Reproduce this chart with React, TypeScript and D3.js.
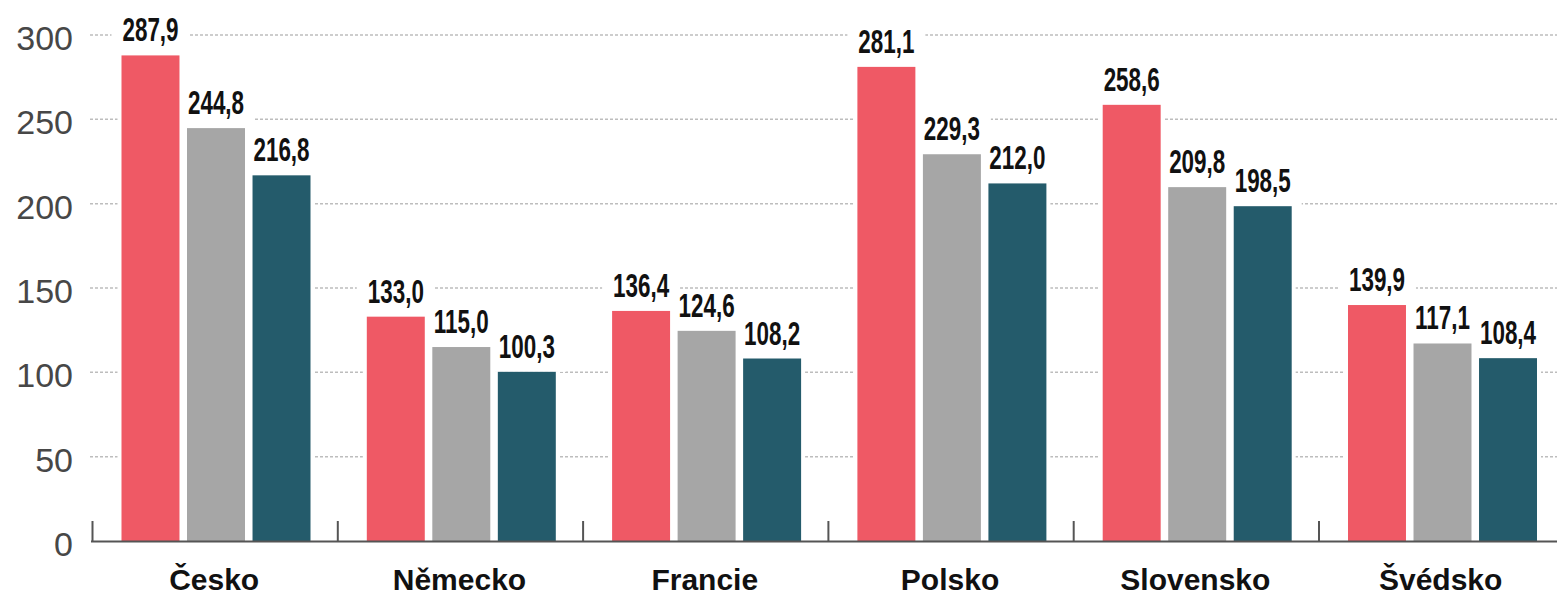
import React from "react";
import * as d3 from "d3";

const categories = ["Česko", "Německo", "Francie", "Polsko", "Slovensko", "Švédsko"];
const seriesKeys = ["s1", "s2", "s3"];
const series1 = [287.9, 133.0, 136.4, 281.1, 258.6, 139.9];
const series2 = [244.8, 115.0, 124.6, 229.3, 209.8, 117.1];
const series3 = [216.8, 100.3, 108.2, 212.0, 198.5, 108.4];
const yTicks = [0, 50, 100, 150, 200, 250, 300];
const colors = ["#ef5965", "#a6a6a6", "#245b6b"];

const W = 1557;
const H = 596;

export default function App() {
  const values = [series1, series2, series3];
  const x0 = d3.scaleBand<string>().domain(categories).range([92, 92 + 6 * 245.3]).padding(0);
  const x1 = d3.scaleBand<string>().domain(seriesKeys).range([29.5, 218.5]).paddingInner(0.115).paddingOuter(0);
  const y = d3.scaleLinear().domain([0, 300]).range([541, 35]);
  const fmt = (v: number) => v.toFixed(1).replace(".", ",");
  const bw = x1.bandwidth();

  const bars: { cat: string; si: number; v: number; x: number }[] = [];
  categories.forEach((c, ci) => {
    seriesKeys.forEach((k, si) => {
      bars.push({ cat: c, si, v: values[si][ci], x: (x0(c) as number) + (x1(k) as number) });
    });
  });

  return (
    <div style={{ position: "absolute", left: 0, top: 0 }}>
      <svg width={W} height={H} style={{ display: "block" }}>
        <rect x={0} y={0} width={W} height={H} fill="#fff" />
        {/* gridlines */}
        {yTicks.filter((t) => t > 0).map((t) => (
          <line key={t} x1={90} x2={W} y1={y(t)} y2={y(t)} stroke="#bdbdbd" strokeWidth={1.5} strokeDasharray="3,2" />
        ))}
        {/* y labels */}
        {yTicks.map((t) => (
          <text key={t} x={73} y={y(t) + 15} textAnchor="end" fontFamily="Liberation Sans, Arial, sans-serif" fontSize={34} fill="#474747">
            {t}
          </text>
        ))}
        {/* white masks behind bars and labels */}
        {bars.map((b, i) => (
          <g key={"m" + i}>
            <rect x={b.x - 4} y={y(b.v)} width={bw + 8} height={541 - y(b.v)} fill="#fff" />
            <rect x={b.x - 10} y={y(b.v) - 40} width={bw + 20} height={40} fill="#fff" />
          </g>
        ))}
        {/* bars */}
        {bars.map((b, i) => (
          <rect key={"b" + i} x={b.x} y={y(b.v)} width={bw} height={541 - y(b.v)} fill={colors[b.si]} />
        ))}
        {/* value labels */}
        {bars.map((b, i) => (
          <text
            key={"t" + i}
            transform={`translate(${b.x + bw / 2},${y(b.v) - 14}) scale(0.68,1)`}
            textAnchor="middle"
            fontFamily="Liberation Sans, Arial, sans-serif"
            fontWeight="bold"
            fontSize={33}
            fill="#111"
          >
            {fmt(b.v)}
          </text>
        ))}
        {/* axis */}
        <line x1={91} x2={W} y1={541.5} y2={541.5} stroke="#555" strokeWidth={2} />
        {categories.map((c) => (
          <line key={"tk" + c} x1={(x0(c) as number) + 0.5} x2={(x0(c) as number) + 0.5} y1={521} y2={541} stroke="#555" strokeWidth={2} />
        ))}
        {categories.map((c) => (
          <text
            key={"cl" + c}
            x={(x0(c) as number) + x0.bandwidth() / 2 - 0.5}
            y={590}
            textAnchor="middle"
            fontFamily="Liberation Sans, Arial, sans-serif"
            fontWeight="bold"
            fontSize={30}
            fill="#111"
          >
            {c}
          </text>
        ))}
      </svg>
    </div>
  );
}
